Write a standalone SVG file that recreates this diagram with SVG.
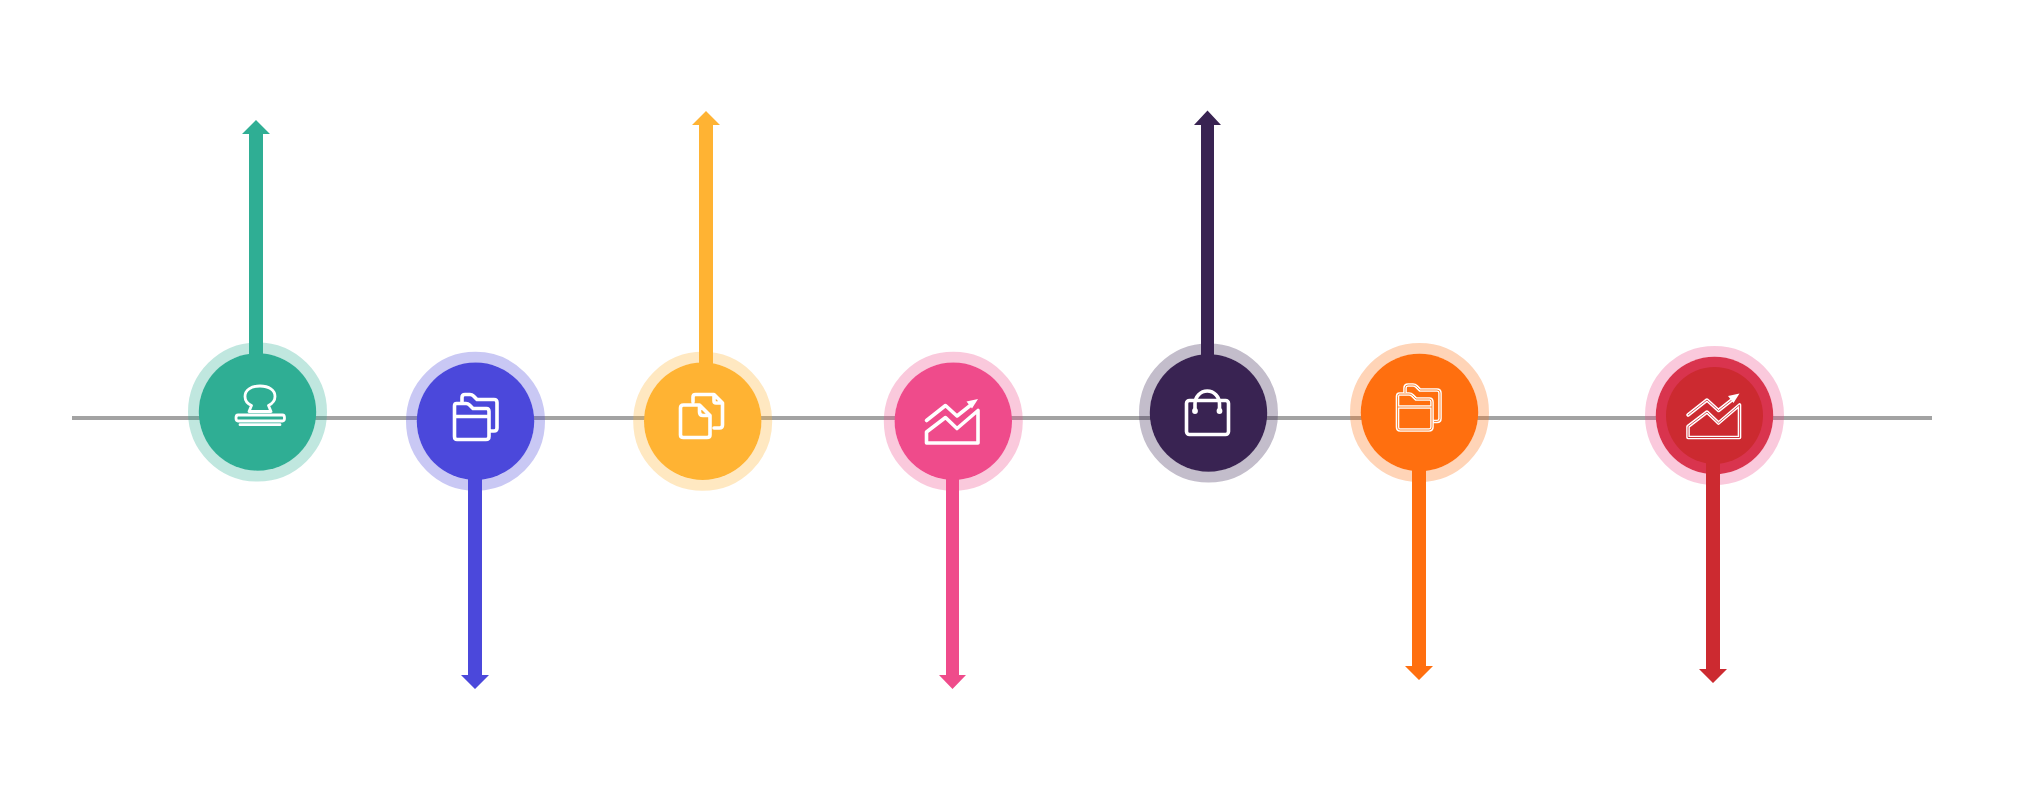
<svg xmlns="http://www.w3.org/2000/svg" width="2017" height="798" viewBox="0 0 2017 798">
<style>
.ring{fill:none;stroke-width:11;stroke-opacity:.3}
.ic{fill:none;stroke:#fff;stroke-width:3.600;stroke-linejoin:round;stroke-linecap:round}
.thin{fill:none;stroke:#ff6f0f;stroke-width:.8}
.thinr{fill:none;stroke:#cc2a30;stroke-width:.8}
.head{fill:#fff}
</style>
<defs>
<path id="folder" d="M462 402.500V397.500Q462 394.500 465 394.500H470Q472 394.500 473.500 396L477 399.500H494Q497 399.500 497 402.500V428Q497 431 494 431H491M456.500 403.500H466Q468 403.500 469.500 405L473 408.500H486.500Q489 408.500 489 411.500V436.500Q489 439.500 486 439.500H457Q454.500 439.500 454.500 436.500V406Q454.500 403.500 456.500 403.500ZM454.500 416.500H489"/>
<path id="chart" d="M926.500 420.500L945.500 405.500L957 416L971.500 404.500M926.500 443V432L945.500 417.500L957 428.500L978 410.500V443ZM926.500 443H978"/>
<path id="chart-head" d="M966.500 401.500L978 399L972 408.500Z"/>
</defs>
<rect width="2017" height="798" fill="#fff"/>
<g id="baseline">
<line x1="72" y1="418" x2="1932" y2="418" stroke="#a3a3a3" stroke-width="4"/>
</g>
<g id="node-1">
<circle class="ring" cx="257.500" cy="412" r="64" stroke="#2fae94"/>
<circle cx="257.500" cy="412" r="58.700" fill="#2fae94"/>
<path class="ic" style="stroke-width:2.800" d="M249 411.500L251.500 405.500C247 403.500 245 400.500 245 396.500C245 390 251 386 260 386C269 386 275 390 275 396.500C275 400.500 272.500 403.500 268.500 405.500L271 411.500ZM238 415H282.500Q284.500 415 284.500 418Q284.500 421 282.500 421H238Q236 421 236 418Q236 415 238 415ZM240 424.700H280"/>
</g>
<g id="node-2">
<circle class="ring" cx="475.500" cy="421.300" r="64" stroke="#4b48db"/>
<circle cx="475.500" cy="421.300" r="58.700" fill="#4b48db"/>
<use href="#folder" class="ic"/>
</g>
<g id="node-3">
<circle class="ring" cx="702.700" cy="421.300" r="64" stroke="#ffb333"/>
<circle cx="702.700" cy="421.300" r="58.700" fill="#ffb333"/>
<path class="ic" d="M693 402V397Q693 394.500 695.500 394.500H714L722.500 403V425Q722.500 428 719.500 428H714M714 394.500V401Q714 403 716 403H722.500M683.500 405H699.500L710 415.500V435Q710 437.500 707 437.500H683.500Q680.500 437.500 680.500 435V408Q680.500 405 683.500 405ZM699.500 405V412Q699.500 415.500 703 415.500H710"/>
</g>
<g id="node-4">
<circle class="ring" cx="953.300" cy="421.300" r="64" stroke="#ef4b8b"/>
<circle cx="953.300" cy="421.300" r="58.700" fill="#ef4b8b"/>
<use href="#chart" class="ic"/>
<use href="#chart-head" class="head"/>
</g>
<g id="node-5">
<circle class="ring" cx="1208.500" cy="413" r="64" stroke="#392352"/>
<circle cx="1208.500" cy="413" r="58.700" fill="#392352"/>
<rect class="ic" x="1186.500" y="400.500" width="42" height="34" rx="3"/>
<path class="ic" d="M1195 411V404A12.250 13 0 0 1 1219.500 404V411"/>
<circle cx="1195" cy="411" r="2.900" fill="#fff"/>
<circle cx="1219.500" cy="411" r="2.900" fill="#fff"/>
</g>
<g id="node-6">
<circle class="ring" cx="1419.500" cy="412.500" r="64" stroke="#ff6f0f"/>
<circle cx="1419.500" cy="412.500" r="58.700" fill="#ff6f0f"/>
<g transform="translate(943 -9.500)"><use href="#folder" class="ic"/><use href="#folder" class="thin"/></g>
</g>
<g id="node-7">
<circle class="ring" cx="1714.500" cy="415.500" r="64" stroke="#ef4b8b"/>
<circle cx="1714.500" cy="415.500" r="58.700" fill="#d9344e"/>
<circle cx="1714.500" cy="415.500" r="48.500" fill="#cc2a30"/>
<g transform="translate(761.500 -5.500)"><use href="#chart" class="ic"/><use href="#chart" class="thinr"/><use href="#chart-head" class="head"/></g>
</g>
<g id="connectors">
<path fill="#2fae94" d="M249 356V134H242L256 120L270 134H263V356Z"/>
<path fill="#4b48db" d="M468 476V675H461L475 689L489 675H482V476Z"/>
<path fill="#ffb333" d="M699 366V125H692L706 111L720 125H713V366Z"/>
<path fill="#ef4b8b" d="M946 476V675H939L952.500 689L966 675H959V476Z"/>
<path fill="#392352" d="M1201 358V125H1194L1207.500 110.500L1221 125H1214V358Z"/>
<path fill="#ff6f0f" d="M1412 468V666H1405L1419 680L1433 666H1426V468Z"/>
<path fill="#cc2a30" d="M1706 463V669H1699L1713 683L1727 669H1720V463Z"/>
</g>
</svg>
